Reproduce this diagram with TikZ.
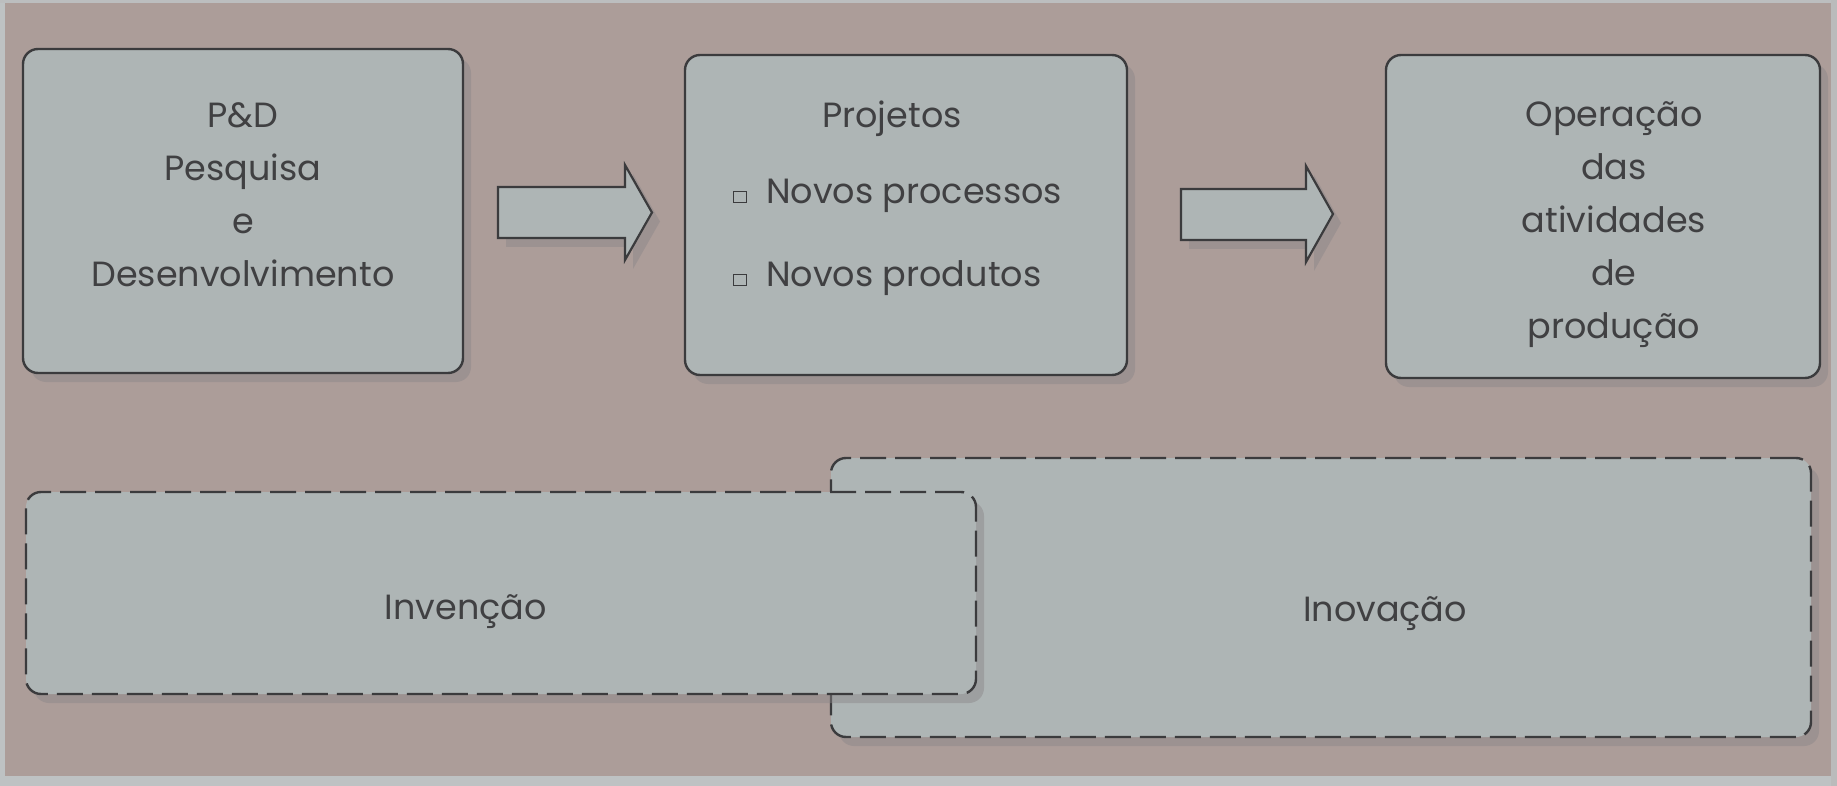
\documentclass[tikz,border=0pt]{standalone}
\usepackage{fontspec}
\setmainfont{Poppins}
\usetikzlibrary{shadows}
\definecolor{bg}{HTML}{AC9D99}
\definecolor{boxfill}{HTML}{AEB5B5}
\definecolor{ink}{HTML}{3B3B3D}
\definecolor{txtc}{HTML}{404042}
\definecolor{shadowc}{HTML}{8A8588}
\definecolor{edgec}{HTML}{BEC2C3}
\tikzset{
  boxshadow/.style={drop shadow={shadow xshift=8pt, shadow yshift=-9pt, fill=shadowc, opacity=0.45}},
  solidbox/.style={draw=ink, line width=2.4pt, fill=boxfill, rounded corners=15pt, inner sep=0pt, boxshadow},
  dashbox/.style={draw=ink, line width=2.4pt, dash pattern=on 26pt off 9pt, fill=boxfill, rounded corners=15pt, inner sep=0pt, boxshadow},
  blockarrow/.style={draw=ink, line width=2.2pt, fill=boxfill, line join=miter, boxshadow},
  txt/.style={text=txtc, font=\fontsize{35}{53}\selectfont, align=center, inner sep=0pt},
  bulletbox/.style={draw=ink, line width=1.8pt, fill=boxfill, minimum width=13pt, minimum height=11pt, inner sep=0pt}
}
\begin{document}
\begin{tikzpicture}[x=1pt,y=-1pt]
\useasboundingbox (0,0) rectangle (1837,786);
\fill[bg] (0,0) rectangle (1837,786);
\fill[edgec] (0,0) rectangle (5,786);
\fill[edgec] (0,776) rectangle (1837,786);
\fill[edgec!90!bg] (0,0) rectangle (1837,3);
\fill[edgec!80!bg] (1831,0) rectangle (1837,786);

% top row boxes
\node[solidbox, minimum width=440pt, minimum height=324pt] (pd) at (243,211) {};
\node[txt] (pdt) at (243,195) {P\&D\\Pesquisa\\e\\Desenvolvimento};

\node[solidbox, minimum width=442pt, minimum height=320pt] (proj) at (906,215) {};
\node[txt, anchor=base] (projt) at (892,128) {Projetos};
\node[bulletbox] (b1) at (740,197) {};
\node[txt, anchor=base west] (np1) at (766,204) {Novos processos};
\node[bulletbox] (b2) at (740,280) {};
\node[txt, anchor=base west] (np2) at (766,287) {Novos produtos};

\node[solidbox, minimum width=434pt, minimum height=323pt] (op) at (1603,216.5) {};
\node[txt] (opt) at (1614,225) {Operação\\das\\atividades\\de\\produção};

% block arrows
\draw[blockarrow] (498,187) -- (625,187) -- (625,165) -- (652,212.5) -- (625,260) -- (625,238) -- (498,238) -- cycle;
\draw[blockarrow] (1181,189) -- (1306,189) -- (1306,166) -- (1333,214) -- (1306,262) -- (1306,240) -- (1181,240) -- cycle;

% bottom dashed boxes
\node[dashbox, minimum width=980pt, minimum height=279pt] (ino) at (1321,597.5) {};
\node[txt] (inot) at (1385,614) {Inovação};
\node[dashbox, minimum width=950pt, minimum height=202pt] (inv) at (501,593) {};
\node[txt] (invt) at (466,612) {Invenção};
\end{tikzpicture}
\end{document}
